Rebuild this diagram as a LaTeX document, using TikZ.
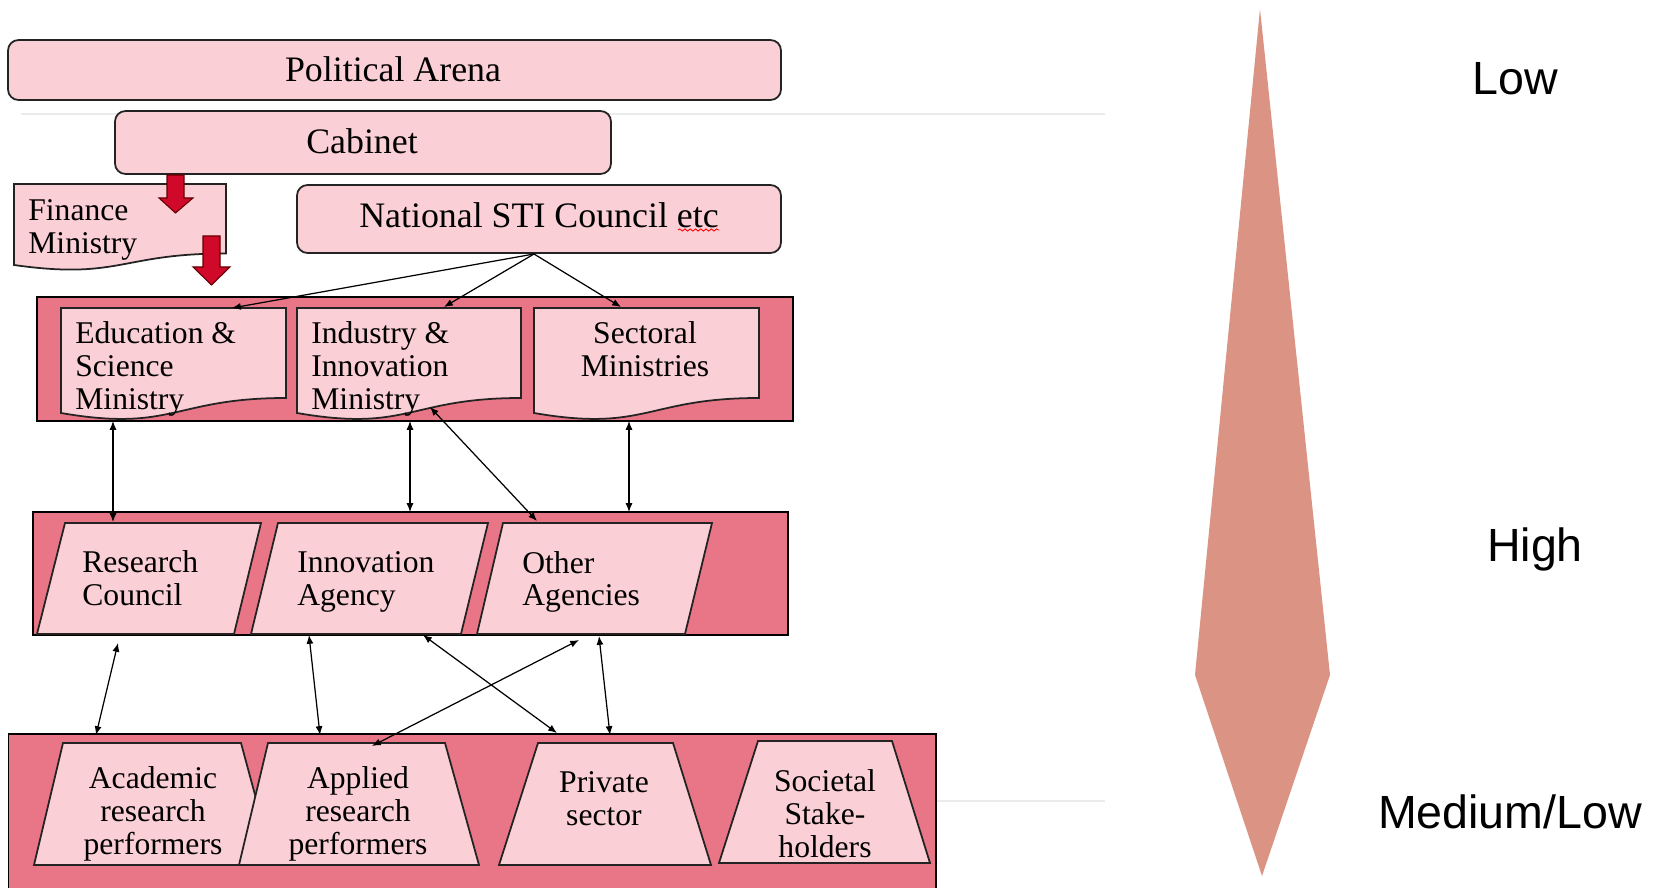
\documentclass[tikz,border=0pt]{standalone}
\usepackage{fontspec}
\setmainfont{Liberation Serif}
\newfontfamily\labelsans{Liberation Sans}
\usetikzlibrary{arrows.meta,decorations.pathmorphing}
\definecolor{lightpink}{RGB}{250,207,214}
\definecolor{darkpink}{RGB}{233,118,134}
\definecolor{blockred}{RGB}{208,8,42}
\definecolor{salmon}{RGB}{219,147,131}
\definecolor{edgegray}{RGB}{35,35,35}
\tikzset{
  box/.style={draw=edgegray, line width=1pt, fill=lightpink},
  container/.style={draw=black, line width=1pt, fill=darkpink},
  bigtext/.style={font=\fontsize{20.4}{24}\selectfont, inner sep=0pt},
  bodytext/.style={font=\fontsize{18}{18.7}\selectfont, inner sep=0pt},
  sidetext/.style={font=\labelsans\fontsize{26.5}{30}\selectfont, inner sep=0pt},
  conn/.style={line width=0.7pt, {Latex[length=5pt,width=4pt]}-{Latex[length=5pt,width=4pt]}},
  oneway/.style={line width=0.7pt, -{Latex[length=5pt,width=4pt]}},
  redarrow/.style={fill=blockred, draw=black!60!red, line width=0.6pt},
  faint/.style={draw=black!8, line width=0.6pt},
}
\begin{document}
\begin{tikzpicture}[x=0.02cm, y=-0.02cm]
\clip (0,0) rectangle (1658,888);
\fill[white] (0,0) rectangle (1658,888);

% faint background lines
\draw[faint] (21,114) -- (1105,114);
\draw[faint] (936,801) -- (1105,801);

% top boxes
\draw[box, rounded corners=6pt] (8,40) rectangle (781,100);
\node[bigtext] (pa) at (393,69) {Political Arena};
\draw[box, rounded corners=6pt] (115,111) rectangle (611,174);
\node[bigtext] (cab) at (362,141) {Cabinet};
\draw[box, rounded corners=6pt] (297,185) rectangle (781,253);
\node[bigtext] (sti) at (539,215) {National STI Council etc};
\draw[red, line width=0.5pt, decorate, decoration={snake, amplitude=0.6pt, segment length=3pt}] (678,230) -- (719,230);

% finance ministry (document shape)
\draw[box] (14,184) -- (226,184) -- (226,253.5) .. controls (120,253.5) and (120,280) .. (14,265) -- cycle;
\node[bodytext, anchor=west, align=left] (fin) at (28,230) {Finance\\Ministry};

% red block arrows
\draw[redarrow] (167,175) -- (184,175) -- (184,198) -- (193,198) -- (175.5,213) -- (159,198) -- (167,198) -- cycle;
\draw[redarrow] (203,236) -- (220,236) -- (220,267) -- (230,267) -- (211.5,285) -- (193,267) -- (203,267) -- cycle;

% ministries level
\draw[container] (37,297) rectangle (793,421);
\draw[box] (61,308) -- (286,308) -- (286,398) .. controls (173.5,398) and (173.5,432.4) .. (61,413) -- cycle;
\draw[box] (297,308) -- (521,308) -- (521,398) .. controls (409,398) and (409,432.4) .. (297,413) -- cycle;
\draw[box] (534,308) -- (759,308) -- (759,398) .. controls (646.5,398) and (646.5,432.4) .. (534,413) -- cycle;
\node[bodytext, anchor=west, align=left] (edu) at (75,369) {Education \&\\Science\\Ministry};
\node[bodytext, anchor=west, align=left] (ind) at (311,369) {Industry \&\\Innovation\\Ministry};
\node[bodytext, align=center] (sec) at (645,349) {Sectoral\\Ministries};

% agencies level
\draw[container] (33,512) rectangle (788,635);
\draw[box] (65,523) -- (261,523) -- (234,634) -- (37,634) -- cycle;
\draw[box] (278,523) -- (488,523) -- (461,634) -- (251,634) -- cycle;
\draw[box] (503,523) -- (712,523) -- (685,634) -- (477,634) -- cycle;
\node[bodytext, anchor=west, align=left] (rc) at (82,578) {Research\\Council};
\node[bodytext, anchor=west, align=left] (ia) at (297,582) {Innovation\\Agency};
\node[bodytext, anchor=west, align=left] (oa) at (522,582) {Other\\Agencies};

% performers level
\draw[container] (8.5,734) rectangle (936,900);
\draw[box] (63,743) -- (241,743) -- (274,865) -- (34,865) -- cycle;
\draw[box] (268,743) -- (445,743) -- (479,865) -- (239,865) -- cycle;
\draw[box] (538,743) -- (673,743) -- (711,865) -- (499,865) -- cycle;
\draw[box] (758,741) -- (892,741) -- (930,863) -- (719,863) -- cycle;
\node[bodytext, align=center] (arp) at (153,814) {Academic\\research\\performers};
\node[bodytext, align=center] (aprp) at (358,814) {Applied\\research\\performers};
\node[bodytext, align=center] (ps) at (604,799) {Private\\sector};
\node[bodytext, align=center] (ss) at (825,814) {Societal\\Stake-\\holders};

% connector end points
\coordinate (stiS) at (534,254);
\coordinate (eduN) at (232,308);
\coordinate (indN) at (444,307);
\coordinate (secN) at (621,307);
\coordinate (eduS) at (113,421);
\coordinate (indS) at (410,421);
\coordinate (indSd) at (430,407);
\coordinate (secS) at (629,421);
\coordinate (rcN) at (113,522);
\coordinate (iaN) at (410,512);
\coordinate (oaNw) at (537,521);
\coordinate (oaN) at (629,512);
\coordinate (rcS) at (118,643);
\coordinate (iaS) at (309,635);
\coordinate (iaSe) at (423,635);
\coordinate (oaSw) at (579,640);
\coordinate (oaS) at (599,636);
\coordinate (arpN) at (96,735);
\coordinate (aprpN) at (320,735);
\coordinate (aprpNe) at (372,746);
\coordinate (psNw) at (557,733);
\coordinate (psN) at (610,735);

\draw[oneway] (stiS) -- (eduN);
\draw[oneway] (stiS) -- (indN);
\draw[oneway] (stiS) -- (secN);
\draw[conn] (eduS) -- (rcN);
\draw[conn] (indS) -- (iaN);
\draw[conn] (indSd) -- (oaNw);
\draw[conn] (secS) -- (oaN);
\draw[conn] (rcS) -- (arpN);
\draw[conn] (iaS) -- (aprpN);
\draw[conn] (iaSe) -- (psNw);
\draw[conn] (oaSw) -- (aprpNe);
\draw[conn] (oaS) -- (psN);

% right-hand scale
\fill[salmon] (1260,9) -- (1330,675) -- (1262,876) -- (1195,675) -- cycle;
\node[sidetext] (low) at (1515,79) {Low};
\node[sidetext] (high) at (1535,549) {High};
\node[sidetext] (medlow) at (1510,812) {Medium/Low};
\end{tikzpicture}
\end{document}
